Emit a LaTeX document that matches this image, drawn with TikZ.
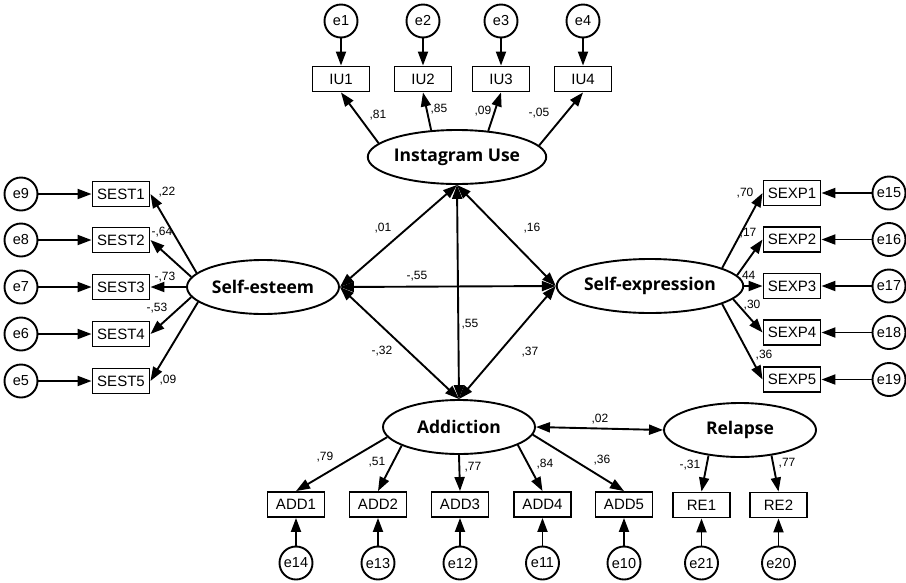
\documentclass[tikz,border=0pt]{standalone}
\usepackage{fontspec}
\setmainfont{Liberation Sans}
\newfontfamily\latfont{Open Sans}
\usetikzlibrary{shapes.geometric,arrows.meta}
\begin{document}
\begin{tikzpicture}[x=1pt,y=-1pt,
 lat/.style={ellipse,draw,line width=1.9pt,minimum width=152pt,minimum height=54pt,inner sep=0pt,font=\latfont\bfseries\fontsize{17.5}{18}\selectfont},
 obs/.style={rectangle,draw,line width=1.9pt,minimum width=57pt,minimum height=25pt,inner sep=0pt,font=\fontsize{15}{15}\selectfont},
 err/.style={circle,draw,line width=1.9pt,minimum size=33pt,inner sep=0pt,font=\fontsize{14.5}{15}\selectfont},
 arr/.style={line width=1.9pt,-{Triangle[length=14pt,width=10pt]}},
 dbl/.style={line width=1.9pt,{Triangle[length=14pt,width=10pt]}-{Triangle[length=14pt,width=10pt]}},
 lbl/.style={font=\fontsize{12}{12}\selectfont,inner sep=0pt}
]
\useasboundingbox (0,0) rectangle (906,582);
% latent variables
\node[lat] (IU) at (457,157) {Instagram Use};
\node[lat] (SE) at (263,287) {Self-esteem};
\node[lat] (SX) at (650,286) {Self-expression};
\node[lat] (AD) at (459,427) {Addiction};
\node[lat] (RL) at (740,430) {Relapse};
% IU indicators
\node[obs] (IU1) at (341,79) {IU1};
\node[obs] (IU2) at (423,79) {IU2};
\node[obs] (IU3) at (501,79) {IU3};
\node[obs] (IU4) at (583,79) {IU4};
\node[err] (e1) at (341,21) {e1};
\node[err] (e2) at (423,21) {e2};
\node[err] (e3) at (501,21) {e3};
\node[err] (e4) at (583,21) {e4};
% SEST
\node[obs] (S1) at (121,194) {SEST1};
\node[obs] (S2) at (121,240) {SEST2};
\node[obs] (S3) at (121,287) {SEST3};
\node[obs] (S4) at (121,334) {SEST4};
\node[obs] (S5) at (121,381) {SEST5};
\node[err] (e9) at (21,194) {e9};
\node[err] (e8) at (21,240) {e8};
\node[err] (e7) at (21,287) {e7};
\node[err] (e6) at (21,334) {e6};
\node[err] (e5) at (21,381) {e5};
% SEXP
\node[obs] (X1) at (792,193) {SEXP1};
\node[obs] (X2) at (792,239.5) {SEXP2};
\node[obs] (X3) at (792,286) {SEXP3};
\node[obs] (X4) at (792,332.5) {SEXP4};
\node[obs] (X5) at (792,379.5) {SEXP5};
\node[err] (e15) at (889,193) {e15};
\node[err] (e16) at (889,239.5) {e16};
\node[err] (e17) at (889,286) {e17};
\node[err] (e18) at (889,332.5) {e18};
\node[err] (e19) at (889,379.5) {e19};
% ADD
\node[obs] (A1) at (296,504.5) {ADD1};
\node[obs] (A2) at (378,504.5) {ADD2};
\node[obs] (A3) at (460,504.5) {ADD3};
\node[obs] (A4) at (542.5,504.5) {ADD4};
\node[obs] (A5) at (624,504.5) {ADD5};
\node[err] (e14) at (296,563) {e14};
\node[err] (e13) at (378,563) {e13};
\node[err] (e12) at (460,563) {e12};
\node[err] (e11) at (542.5,563) {e11};
\node[err] (e10) at (624,563) {e10};
% RE
\node[obs] (R1) at (701.5,505) {RE1};
\node[obs] (R2) at (778.5,505) {RE2};
\node[err] (e21) at (701.5,563) {e21};
\node[err] (e20) at (778.5,563) {e20};

% error arrows
\foreach \e/\v in {e1/IU1,e2/IU2,e3/IU3,e4/IU4,e9/S1,e8/S2,e7/S3,e6/S4,e5/S5,e15/X1,e16/X2,e17/X3,e18/X4,e19/X5,e14/A1,e13/A2,e12/A3,e11/A4,e10/A5,e21/R1,e20/R2}
  \draw[arr] (\e) -- (\v);

% loadings
\draw[arr] (IU.170) -- (IU1.south);
\draw[arr] (IU.134) -- (IU2.south);
\draw[arr] (IU.40) -- (IU3.south);
\draw[arr] (IU.8) -- (IU4.south);
\draw[arr] (SE.168) -- (S1.east);
\draw[arr] (SE.172) -- (S2.east);
\draw[arr] (SE.180) -- (S3.east);
\draw[arr] (SE.188) -- (S4.east);
\draw[arr] (SE.193) -- (S5.east);
\draw[arr] (SX.14) -- (X1.west);
\draw[arr] (SX.7) -- (X2.west);
\draw[arr] (SX.0) -- (X3.west);
\draw[arr] (SX.351) -- (X4.west);
\draw[arr] (SX.346) -- (X5.west);
\draw[arr] (AD.188) -- (A1.north);
\draw[arr] (AD.198) -- (A2.north);
\draw[arr] (AD.270) -- (A3.north);
\draw[arr] (AD.343) -- (A4.north);
\draw[arr] (AD.354) -- (A5.north);
\draw[arr] (RL.219) -- (R1.north);
\draw[arr] (RL.321) -- (R2.north);

% covariances
\draw[dbl] (IU.south) -- (SE.east);
\draw[dbl] (IU.south) -- (SX.west);
\draw[dbl] (IU.south) -- (AD.north);
\draw[dbl] (SE.east) -- (SX.west);
\draw[dbl] (SE.east) -- (AD.north);
\draw[dbl] (SX.west) -- (AD.north);
\draw[dbl] (AD.east) -- (RL.west);

% labels
\node[lbl] (l1) at (378,115) {,81};
\node[lbl] (l2) at (439,109) {,85};
\node[lbl] (l3) at (483,111) {,09};
\node[lbl] (l4) at (539,113) {-,05};
\node[lbl] (l5) at (167,192) {,22};
\node[lbl] (l6) at (162,232) {-,64};
\node[lbl] (l7) at (165,277) {-,73};
\node[lbl] (l8) at (157,308) {-,53};
\node[lbl] (l9) at (168,380) {,09};
\node[lbl] (l10) at (745,193) {,70};
\node[lbl] (l11) at (748,233) {,17};
\node[lbl] (l12) at (747,276) {,44};
\node[lbl] (l13) at (752,305) {,30};
\node[lbl] (l14) at (764,355) {,36};
\node[lbl] (l15) at (383,228) {,01};
\node[lbl] (l16) at (532,228) {,16};
\node[lbl] (l17) at (417,276) {-,55};
\node[lbl] (l18) at (470,324) {,55};
\node[lbl] (l19) at (382,351) {-,32};
\node[lbl] (l20) at (530,352) {,37};
\node[lbl] (l21) at (325,457) {,79};
\node[lbl] (l22) at (377,462) {,51};
\node[lbl] (l23) at (473,467) {,77};
\node[lbl] (l24) at (545,464) {,84};
\node[lbl] (l25) at (602,460) {,36};
\node[lbl] (l26) at (600,419) {,02};
\node[lbl] (l27) at (690,465) {-,31};
\node[lbl] (l28) at (787,463) {,77};
\end{tikzpicture}
\end{document}
